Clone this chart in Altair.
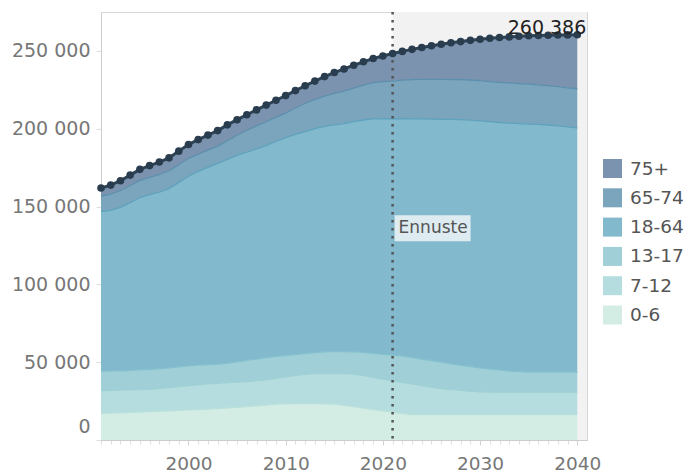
import altair as alt
import pandas as pd

years = list(range(1991, 2041))
decades = [2000, 2010, 2020, 2030, 2040]
groups = ["0-6", "7-12", "13-17", "18-64", "65-74", "75+"]
legend_order = ["75+", "65-74", "18-64", "13-17", "7-12", "0-6"]

age_0_6 = [17200, 17300, 17500, 17700, 18000, 18300, 18500, 18700, 19000, 19300,
           19600, 19900, 20200, 20600, 21000, 21500, 22000, 22500, 23000, 23300,
           23400, 23400, 23400, 23300, 23000, 22300, 21500, 20500, 19600, 18800,
           18000, 17000, 16400, 16400, 16400, 16400, 16400, 16400, 16400, 16400,
           16400, 16400, 16400, 16400, 16400, 16400, 16400, 16400, 16400, 16400]
age_7_12 = [14600, 14600, 14500, 14500, 14400, 14300, 14500, 14900, 15300, 15600,
            15900, 16100, 16200, 16200, 16200, 16100, 16100, 16200, 16600, 17300,
            18100, 18800, 19200, 19400, 19700, 20300, 20800, 20800, 20600, 20300,
            20000, 20000, 19600, 18600, 17600, 16700, 16000, 15500, 15000, 14600,
            14400, 14400, 14400, 14400, 14400, 14400, 14400, 14400, 14400, 14400]
age_13_17 = [12500, 12500, 12500, 12600, 12700, 12800, 12700, 12700, 12700, 12700,
             12600, 12400, 12200, 12500, 13000, 13500, 13900, 14300, 14200, 13700,
             13300, 13300, 13600, 14000, 14100, 14200, 14300, 15000, 15400, 15900,
             16600, 17000, 17000, 17000, 17000, 16900, 16600, 16100, 15800, 15400,
             14800, 14200, 13500, 13100, 12900, 12900, 12900, 12900, 12900, 12900]
age_18_64 = [102500, 103200, 105000, 107700, 110700, 112200, 113600, 115200, 118500, 121900,
             124400, 126800, 129200, 131000, 132600, 133900, 135000, 136200, 138000, 140000,
             141500, 142700, 143800, 144800, 145700, 146500, 147900, 149300, 150700, 151400,
             151800, 152400, 153400, 154300, 155200, 156100, 157000, 157900, 158300, 158600,
             158900, 159000, 159300, 159400, 159300, 159100, 158700, 158100, 157500, 156900]
age_65_74 = [9700, 10300, 10800, 11000, 11000, 11200, 11400, 11500, 11400, 11500,
             11200, 11000, 11000, 12000, 13000, 14000, 14800, 15300, 15500, 15700,
             17000, 18000, 18800, 19500, 20200, 20900, 21600, 22400, 23300, 23800,
             24200, 24800, 25200, 25400, 25500, 25600, 25600, 25600, 25800, 25900,
             25800, 25800, 25800, 25700, 25600, 25400, 25300, 25200, 25100, 25100]
age_75 = [5400, 5900, 6300, 6700, 7100, 7500, 7900, 8300, 8700, 8900,
          9300, 9700, 10000, 10200, 10000, 10000, 10300, 10700, 11000, 11300,
          11200, 11400, 11800, 12500, 13400, 14200, 14700, 15000, 15500, 16500,
          17700, 18500, 19400, 20500, 21600, 22600, 23600, 24500, 25500, 26600,
          27800, 28800, 29600, 30400, 31100, 31700, 32400, 33200, 34000, 34686]

forecast_start = 2021
forecast_label = "Ennuste"

# styles / layout constants
x_domain = [1991, 2041]
y_domain = [0, 275000]
y_ticks = [0, 50000, 100000, 150000, 200000, 250000]
fill_colors = ["#7b93ae", "#7ba5bd", "#82b9cd", "#a0cfd8", "#b5dde0", "#d4ede4"]
line_colors = ["#5a7d9c", "#5b8fae", "#5ea2bd", "#84c0cd", "#9fd0d4", "#b9e0da"]
label_y = 136000
FONT = "DejaVu Sans"

series = [age_0_6, age_7_12, age_13_17, age_18_64, age_65_74, age_75]
rows = []
for gi, (g, arr) in enumerate(zip(groups, series)):
    for yr, v in zip(years, arr):
        rows.append({"year": yr, "group": g, "value": v, "order": gi + 1})
df = pd.DataFrame(rows)

totals = df.groupby("year", as_index=False)["value"].sum().rename(columns={"value": "total"})
last = totals[totals["year"] == totals["year"].max()].copy()
last["label"] = last["total"].map(lambda v: f"{v:,}".replace(",", " "))

x_scale = alt.Scale(domain=x_domain, nice=False, zero=False)
# minor yearly ticks (no labels)
x_axis_minor = alt.Axis(title=None, orient="bottom", values=years, labels=False, grid=False,
                        tickSize=4, tickColor="#dddddd", domainColor="#cccccc")
# labelled decade ticks
x_axis_major = alt.Axis(title=None, orient="bottom", values=decades, format="d", grid=False,
                        tickSize=5, tickColor="#d0d0d0", domain=False,
                        labelFontSize=18.5, labelFont=FONT, labelColor="#777777",
                        labelPadding=9)
y_scale = alt.Scale(domain=y_domain, nice=False)
y_axis = alt.Axis(title=None, values=y_ticks, grid=False, tickSize=5,
                  tickColor="#dddddd", domainColor="#cccccc",
                  labelExpr="replace(format(datum.value, ','), ',', ' ')",
                  labelFontSize=19, labelFont=FONT, labelColor="#777777",
                  labelPadding=6, labelFlush=True, labelFlushOffset=-4)

bg = alt.Chart(pd.DataFrame({"x": [forecast_start], "x2": [x_domain[1]],
                             "y": [y_domain[0]], "y2": [y_domain[1]]})).mark_rect(
    color="#f2f2f2").encode(
    x=alt.X("x:Q", scale=x_scale, axis=x_axis_minor),
    x2="x2:Q",
    y=alt.Y("y:Q", scale=y_scale, axis=y_axis),
    y2="y2:Q")

area = alt.Chart(df).mark_area(opacity=1).encode(
    x=alt.X("year:Q", scale=x_scale, axis=x_axis_major),
    y=alt.Y("value:Q", stack="zero", scale=y_scale, axis=y_axis),
    color=alt.Color("group:N",
                    scale=alt.Scale(domain=legend_order, range=fill_colors),
                    legend=alt.Legend(title=None, orient="none", legendX=502, legendY=147,
                                      symbolType="square", symbolSize=361,
                                      symbolStrokeWidth=0, symbolOpacity=1,
                                      labelFontSize=18.5, labelFont=FONT,
                                      labelColor="#555555", rowPadding=10.3,
                                      labelOffset=8, padding=0)),
    order=alt.Order("order:Q", sort="ascending"))

xn = alt.X("year:Q", axis=None)

lines = alt.Chart(df).transform_window(
    cum="sum(value)", groupby=["year"], sort=[alt.SortField("order")], frame=[None, 0]
).mark_line(strokeWidth=1.3).encode(
    x=xn,
    y="cum:Q",
    stroke=alt.Stroke("group:N", scale=alt.Scale(domain=legend_order, range=line_colors),
                      legend=None))

rule = alt.Chart(pd.DataFrame({"year": [forecast_start]})).mark_rule(
    color="#555555", strokeWidth=2.5, strokeDash=[2.5, 5.5]).encode(x=xn)

lab_df = pd.DataFrame({"year": [forecast_start], "ly": [label_y], "text": [forecast_label]})
box = alt.Chart(lab_df).mark_rect(color="#e6eff3", opacity=0.92,
                                  xOffset=2, x2Offset=78, yOffset=13, y2Offset=-13).encode(
    x=xn, x2="year", y="ly:Q", y2="ly")
box_text = alt.Chart(lab_df).mark_text(align="left", baseline="middle", dx=6,
                                       fontSize=17, font=FONT, color="#555555").encode(
    x=xn, y="ly:Q", text="text:N")

tline = alt.Chart(totals).mark_line(color="#2d4356", strokeWidth=3).encode(
    x=xn, y="total:Q")
tpts = alt.Chart(totals).mark_circle(color="#2a3d4f", size=58, opacity=1).encode(
    x=xn, y="total:Q")
tlabel = alt.Chart(last).mark_text(align="right", baseline="middle", dx=9, dy=-7,
                                   fontSize=19, font=FONT, color="#222222").encode(
    x=xn, y="total:Q", text="label:N")

chart = alt.layer(bg, area, lines, rule, box, box_text, tline, tpts, tlabel).resolve_axis(
    x="independent"
).properties(
    width=486, height=428,
    autosize=alt.AutoSizeParams(type="none"),
    padding={"left": 93, "top": 4, "right": 97, "bottom": 40},
).configure_view(stroke="#d6d6d6", strokeWidth=1)

chart.save("out.html", embed_options={"renderer": "svg", "actions": False})
